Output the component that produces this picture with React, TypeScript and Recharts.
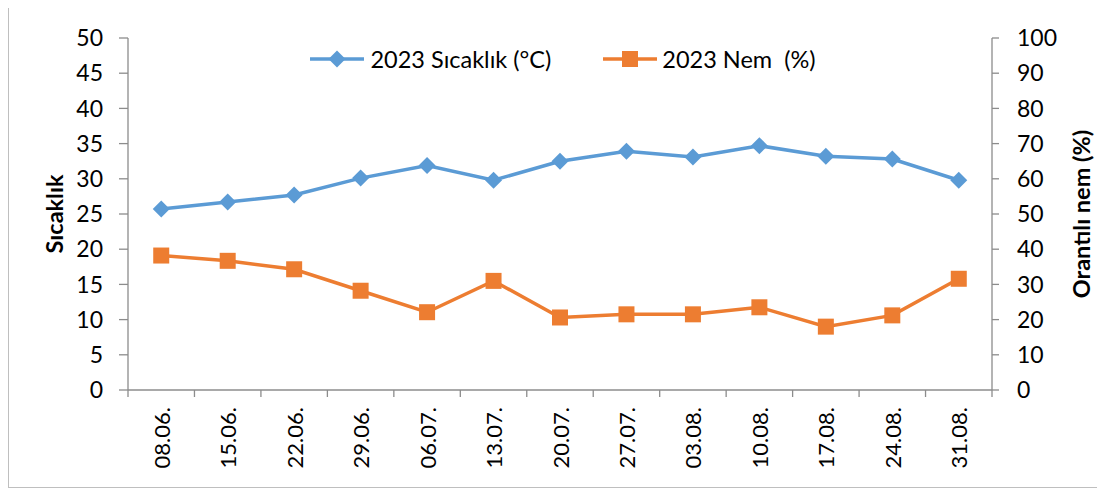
import React from 'react';
import { LineChart, Line, XAxis, YAxis, Legend } from 'recharts';

const dates = ['08.06.', '15.06.', '22.06.', '29.06.', '06.07.', '13.07.', '20.07.', '27.07.', '03.08.', '10.08.', '17.08.', '24.08.', '31.08.'];
const temperature = [25.7, 26.7, 27.7, 30.1, 31.9, 29.8, 32.5, 33.9, 33.1, 34.7, 33.2, 32.8, 29.8];
const humidity = [38.2, 36.7, 34.3, 28.2, 22.1, 31.0, 20.6, 21.5, 21.5, 23.5, 18.0, 21.2, 31.6];
const tempTicks = [0, 5, 10, 15, 20, 25, 30, 35, 40, 45, 50];
const humTicks = [0, 10, 20, 30, 40, 50, 60, 70, 80, 90, 100];

const data = dates.map((d, i) => ({ date: d, temp: temperature[i], hum: humidity[i] }));

const BLUE = '#5B9BD5';
const ORANGE = '#ED7D31';
const AXIS = '#8c8c8c';
const FONT = 'Lato, "Open Sans", sans-serif';

const W = 1095;
const H = 487;
const LEFT_W = 119;
const RIGHT_W = 112;
const PLOT_W = W - LEFT_W - RIGHT_W;
const BAND = PLOT_W / dates.length;

// diamond marker
const Diamond = (props: any) => {
  const { cx, cy } = props;
  if (cx == null || cy == null) return null;
  const r = 8.5;
  return <path d={`M${cx},${cy - r}L${cx + r},${cy}L${cx},${cy + r}L${cx - r},${cy}Z`} fill={BLUE} />;
};

const Square = (props: any) => {
  const { cx, cy } = props;
  if (cx == null || cy == null) return null;
  const s = 8;
  return <rect x={cx - s} y={cy - s} width={s * 2} height={s * 2} fill={ORANGE} />;
};

// date label + tick marks at band edges
const DateTick = (props: any) => {
  const { x, y, payload, index } = props;
  const left = x - BAND / 2;
  return (
    <g>
      <line x1={left} y1={y} x2={left} y2={y + 7} stroke={AXIS} strokeWidth={1.3} />
      {index === dates.length - 1 && (
        <line x1={x + BAND / 2} y1={y} x2={x + BAND / 2} y2={y + 7} stroke={AXIS} strokeWidth={1.3} />
      )}
      <text
        x={x}
        y={y + 17}
        transform={`rotate(-90, ${x}, ${y + 17})`}
        textAnchor="end"
        dominantBaseline="central"
        fontSize={22}
        fontFamily={FONT}
        fill="#000"
      >
        {payload.value}
      </text>
    </g>
  );
};

const LegendContent = () => (
  <div style={{ display: 'flex', justifyContent: 'center', alignItems: 'center', paddingLeft: 13, fontFamily: FONT, fontSize: 23.5, color: '#000' }}>
    <svg width={54} height={20}>
      <line x1={0} y1={10} x2={54} y2={10} stroke={BLUE} strokeWidth={3.5} />
      <path d="M27,1.5L35.5,10L27,18.5L18.5,10Z" fill={BLUE} />
    </svg>
    <span style={{ marginLeft: 6, marginRight: 52 }}>2023 Sıcaklık (°C)</span>
    <svg width={54} height={20}>
      <line x1={0} y1={10} x2={54} y2={10} stroke={ORANGE} strokeWidth={3.5} />
      <rect x={19} y={2} width={16} height={16} fill={ORANGE} />
    </svg>
    <span style={{ marginLeft: 5, whiteSpace: 'pre' }}>2023 Nem  (%)</span>
  </div>
);

export default function App() {
  return (
    <div style={{ marginTop: -8, width: W, height: H, borderLeft: '1px solid #bfbfbf', borderRight: '1px solid #bfbfbf', borderBottom: '1px solid #bfbfbf', background: '#fff' }}>
      <LineChart width={W} height={H} data={data} margin={{ top: 38, right: 0, bottom: 7, left: 0 }}>
        <XAxis
          dataKey="date"
          height={H - 38 - 7 - 352}
          stroke={AXIS}
          strokeWidth={1.3}
          padding={{ left: BAND / 2, right: BAND / 2 }}
          tickLine={false}
          tickSize={0}
          tickMargin={0}
          interval={0}
          tick={<DateTick />}
        />
        <YAxis
          yAxisId="t"
          orientation="left"
          width={LEFT_W}
          domain={[0, 50]}
          ticks={tempTicks}
          interval={0}
          stroke={AXIS}
          strokeWidth={1.3}
          tickSize={9}
          tickMargin={16}
          tick={{ fill: '#000', fontSize: 23, fontFamily: FONT }}
          label={{ value: 'Sıcaklık', angle: -90, position: 'center', dx: -14, style: { fontSize: 23.5, fontWeight: 700, fontFamily: FONT, fill: '#000' } }}
        />
        <YAxis
          yAxisId="h"
          orientation="right"
          width={RIGHT_W}
          domain={[0, 100]}
          ticks={humTicks}
          interval={0}
          stroke={AXIS}
          strokeWidth={1.3}
          tickSize={7}
          tickMargin={18}
          tick={{ fill: '#000', fontSize: 23, fontFamily: FONT, textAnchor: 'start' }}
          label={{ value: 'Orantılı nem (%)', angle: -90, position: 'center', dx: 34, style: { fontSize: 23.5, fontWeight: 700, fontFamily: FONT, fill: '#000' } }}
        />
        <Legend
          verticalAlign="middle"
          align="center"
          layout="horizontal"
          content={<LegendContent />}
          wrapperStyle={{ top: 45, left: 0, width: W }}
        />
        <Line
          yAxisId="t"
          dataKey="temp"
          name="2023 Sıcaklık (°C)"
          stroke={BLUE}
          strokeWidth={3.5}
          dot={<Diamond />}
          activeDot={false}
          isAnimationActive={false}
        />
        <Line
          yAxisId="h"
          dataKey="hum"
          name="2023 Nem  (%)"
          stroke={ORANGE}
          strokeWidth={3.5}
          dot={<Square />}
          activeDot={false}
          isAnimationActive={false}
        />
      </LineChart>
    </div>
  );
}
